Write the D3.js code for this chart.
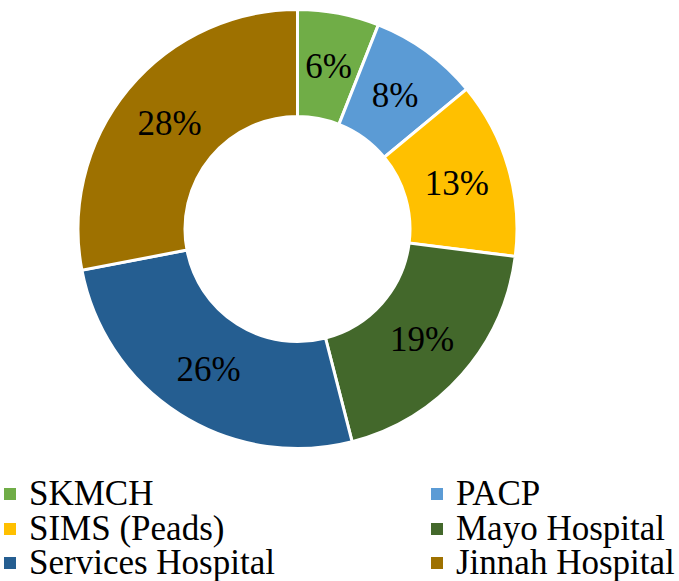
<!DOCTYPE html>
<html><head><meta charset="utf-8">
<script src="https://cdn.jsdelivr.net/npm/d3@7"></script>
</head><body style="margin:0">
<svg id="c" width="679" height="581"></svg>
<script>
const categories = ["SKMCH","PACP","SIMS (Peads)","Mayo Hospital","Services Hospital","Jinnah Hospital"];
const values = [6,8,13,19,26,28];
const colors = ["#70AD47","#5B9BD5","#FFC000","#43682B","#255E91","#9E7100"];

const svg = d3.select("#c");
const cx = 297.5, cy = 229, R = 219.5, r = 112.5;
const pie = d3.pie().sort(null).value(d => d);
const arcs = pie(values);
const arc = d3.arc().innerRadius(r).outerRadius(R);
const labelArc = d3.arc().innerRadius((r+R)/2).outerRadius((r+R)/2);
const g = svg.append("g").attr("transform", `translate(${cx},${cy})`);
g.selectAll("path").data(arcs).join("path")
  .attr("d", arc).attr("fill", (d,i) => colors[i])
  .attr("stroke", "#fff").attr("stroke-width", 3);
arcs.forEach(d => {
  const [x, y] = labelArc.centroid(d);
  g.append("text")
    .attr("x", x).attr("y", y + 12)
    .attr("text-anchor", "middle")
    .style("font-family", `"Liberation Serif"`)
    .attr("font-size", 35)
    .text(d.data + "%");
});

categories.forEach((c, i) => {
  const x = [4, 431][i % 2], y = [505, 540, 574][Math.floor(i / 2)];
  svg.append("rect").attr("x", x).attr("y", y - 17).attr("width", 12).attr("height", 12).attr("fill", colors[i]);
  svg.append("text").attr("x", x + 25).attr("y", y)
    .style("font-family", `"Liberation Serif"`)
    .attr("font-size", 35).text(c);
});
</script>
</body></html>
